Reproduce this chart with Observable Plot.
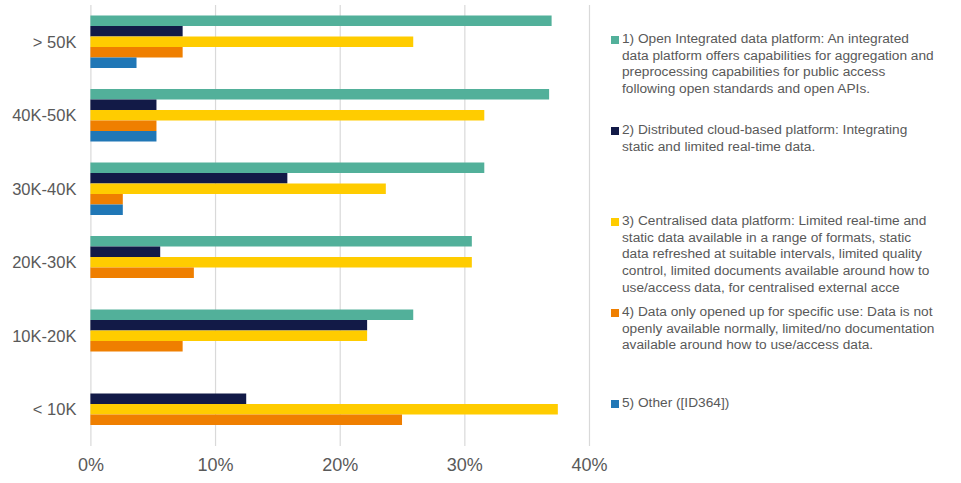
<!DOCTYPE html>
<html>
<head>
<meta charset="utf-8">
<script src="https://cdn.jsdelivr.net/npm/d3@7"></script>
<script src="https://cdn.jsdelivr.net/npm/@observablehq/plot@0.6"></script>
<style>
  html, body { margin: 0; padding: 0; background: #fff; }
  #wrap { position: relative; width: 961px; height: 483px; overflow: hidden; }
  #chart svg g[aria-label^="x-axis"] { font-size: 18px; }
  #chart svg g[aria-label^="y-axis"] { font-size: 16.5px; }
  #legend { position: absolute; left: 610px; top: 31px; font-family: "Liberation Sans", Arial, sans-serif;
            font-size: 13.7px; line-height: 16.7px; color: #595959; }
  .item { position: relative; height: 91px; padding-left: 12px; white-space: pre; }
  .sw { position: absolute; left: 1px; top: 4.5px; width: 8px; height: 8px; }
</style>
</head>
<body>
<div id="wrap">
  <div id="chart"></div>
  <div id="legend"></div>
</div>
<script>
// Population size groups (top to bottom)
const groups = ["> 50K", "40K-50K", "30K-40K", "20K-30K", "10K-20K", "< 10K"];

// Series labels (legend text, with the reference's line breaks)
const seriesLabels = [
  "1) Open Integrated data platform: An integrated\ndata platform offers capabilities for aggregation and\npreprocessing capabilities for public access\nfollowing open standards and open APIs.",
  "2) Distributed cloud-based platform: Integrating\nstatic and limited real-time data.",
  "3) Centralised data platform: Limited real-time and\nstatic data available in a range of formats, static\ndata refreshed at suitable intervals, limited quality\ncontrol, limited documents available around how to\nuse/access data, for centralised external acce",
  "4) Data only opened up for specific use: Data is not\nopenly available normally, limited/no documentation\navailable around how to use/access data.",
  "5) Other ([ID364])"
];
const seriesColors = ["#52b09a", "#121a47", "#ffcc00", "#ef7f00", "#2077b6"];

// Percent values per series, in the order of `groups`
const openIntegrated   = [37.0, 36.8, 31.6, 30.6, 25.9, 0];
const distributedCloud = [7.4, 5.3, 15.8, 5.6, 22.2, 12.5];
const centralised      = [25.9, 31.6, 23.7, 30.6, 22.2, 37.5];
const specificUse      = [7.4, 5.3, 2.6, 8.3, 7.4, 25.0];
const other            = [3.7, 5.3, 2.6, 0, 0, 0];
const seriesValues = [openIntegrated, distributedCloud, centralised, specificUse, other];

// Axis ticks
const xTicks = [0, 10, 20, 30, 40];

// Build table: each group gets 7 slots (pad, 5 series, pad)
const rows = [];
groups.forEach((g, gi) => seriesValues.forEach((vals, si) => {
  rows.push({group: g, series: si, key: g + "|" + (si + 1), value: vals[gi]});
}));
const yDomain = groups.flatMap(g => d3.range(7).map(i => g + "|" + i));
const midKeys = groups.map(g => g + "|3");

const chart = Plot.plot({
  width: 961,
  height: 483,
  marginLeft: 90.4,
  marginRight: 372,
  marginTop: 5,
  marginBottom: 37,
  style: {fontFamily: "'Liberation Sans', Arial, sans-serif", color: "#595959", background: "white", overflow: "visible"},
  x: {domain: [0, 40], ticks: xTicks, tickFormat: d => d + "%", tickSize: 0, tickPadding: 12, label: null},
  y: {domain: yDomain, padding: 0, round: false, ticks: midKeys, tickFormat: k => k.split("|")[0], tickSize: 0, tickPadding: 14.5, label: null},
  marks: [
    Plot.ruleX(xTicks, {stroke: "#d9d9d9", strokeWidth: 1.2}),
    Plot.barX(rows, {x: "value", y: "key", fill: d => seriesColors[d.series]})
  ]
});
document.getElementById("chart").appendChild(chart);

// Legend
const legend = d3.select("#legend");
seriesLabels.forEach((label, i) => {
  const item = legend.append("div").attr("class", "item");
  item.append("span").attr("class", "sw").style("background", seriesColors[i]);
  item.append("span").text(label);
});
</script>
</body>
</html>
